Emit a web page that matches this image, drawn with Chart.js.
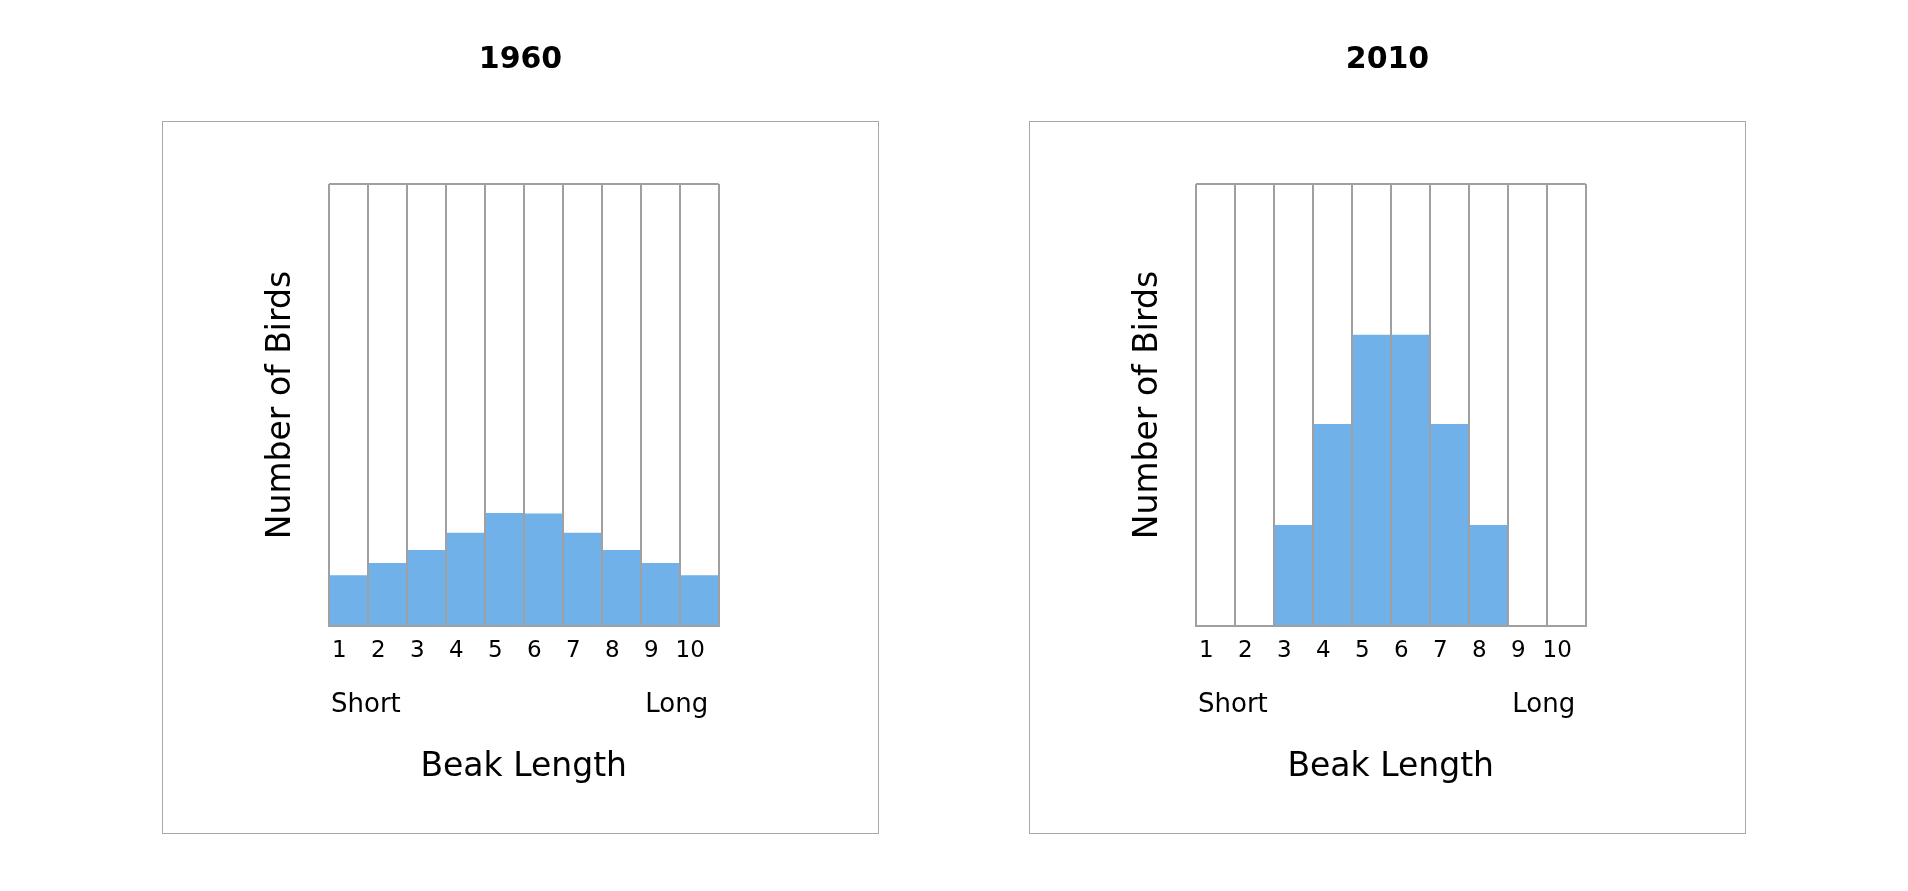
<!DOCTYPE html>
<html>
<head>
<meta charset="utf-8">
<script src="https://cdn.jsdelivr.net/npm/chart.js@4"></script>
<style>
  html, body { margin: 0; padding: 0; background: #ffffff; width: 1908px; height: 891px; overflow: hidden; }
  .frame { position: absolute; top: 121px; width: 717px; height: 713px; box-sizing: border-box; border: 1px solid #a8a8a8; }
  .holder { position: absolute; top: 0; width: 715px; height: 832px; z-index: 2; }
  .holder canvas { display: block; }
</style>
</head>
<body>
<div class="frame" style="left:162px"></div>
<div class="frame" style="left:1029px"></div>
<div class="holder" style="left:163px"><canvas id="c1" width="715" height="832"></canvas></div>
<div class="holder" style="left:1030px"><canvas id="c2" width="715" height="832"></canvas></div>
<script>
// ---- data ----
const CATEGORIES = ['1', '2', '3', '4', '5', '6', '7', '8', '9', '10'];
const BIRDS_1960 = [11.4, 14.2, 17.1, 21.0, 25.5, 25.4, 21.0, 17.1, 14.2, 11.4];
const BIRDS_2010 = [0, 0, 22.8, 45.6, 65.8, 65.8, 45.6, 22.8, 0, 0];
const CHART_TITLES = ['1960', '2010'];
const END_LABELS = ['Short', 'Long'];
const X_TITLE = 'Beak Length';
const Y_TITLE = 'Number of Birds';
const Y_MAX = 100;

// ---- style ----
const FONT = 'DejaVu Sans';
const TEXT = '#000000';
const GRID = '#a0a0a0';
const BAR = '#6fb1e8';
const END_POS = [0.06, 9.73];

function makeChart(canvasId, title, values) {
  return new Chart(document.getElementById(canvasId), {
    type: 'bar',
    data: {
      labels: CATEGORIES,
      datasets: [{
        data: values,
        backgroundColor: BAR,
        borderWidth: 0,
        barPercentage: 1,
        categoryPercentage: 1,
        xAxisID: 'x',
        yAxisID: 'y'
      }]
    },
    options: {
      responsive: false,
      animation: false,
      devicePixelRatio: 1,
      layout: { padding: { top: 0, left: 0, right: 0, bottom: 48.5 } },
      plugins: {
        legend: { display: false },
        tooltip: { enabled: false },
        title: {
          display: true,
          text: title,
          color: TEXT,
          font: { family: FONT, size: 30, weight: 'bold', lineHeight: 1 },
          padding: { top: 45.5, bottom: 108.5 }
        }
      },
      scales: {
        x: {
          type: 'category',
          position: 'bottom',
          weight: 0,
          offset: true,
          grid: { display: true, offset: true, color: GRID, lineWidth: 2, drawTicks: false, z: 1 },
          border: { display: true, color: GRID, width: 2, z: 1 },
          ticks: {
            color: TEXT,
            font: { family: FONT, size: 23, lineHeight: 1 },
            padding: 13.5,
            labelOffset: -9,
            maxRotation: 0,
            autoSkip: false
          }
        },
        x2: {
          type: 'linear',
          position: 'bottom',
          weight: 1,
          offset: false,
          min: 0,
          max: CATEGORIES.length,
          grid: { display: false, drawTicks: false, offset: false },
          border: { display: false },
          afterBuildTicks: (axis) => { axis.ticks = END_POS.map(v => ({ value: v })); },
          ticks: {
            color: TEXT,
            font: { family: FONT, size: 26, lineHeight: 1 },
            padding: 16.5,
            align: 'inner',
            maxRotation: 0,
            autoSkip: false,
            callback: (v, i) => END_LABELS[i]
          },
          title: {
            display: true,
            text: X_TITLE,
            color: TEXT,
            font: { family: FONT, size: 33, lineHeight: 1 },
            padding: { top: 15.5, bottom: 0 }
          }
        },
        y: {
          type: 'linear',
          position: 'left',
          min: 0,
          max: Y_MAX,
          ticks: { display: false, stepSize: Y_MAX },
          grid: {
            display: true,
            drawTicks: false,
            lineWidth: 2,
            z: 1,
            color: (ctx) => (ctx.tick && ctx.tick.value === Y_MAX) ? GRID : 'rgba(0,0,0,0)'
          },
          border: { display: false },
          title: {
            display: true,
            text: Y_TITLE,
            color: TEXT,
            font: { family: FONT, size: 33, lineHeight: 1 },
            padding: { top: 102.2, bottom: 31 }
          },
          afterFit: (s) => { s.width = 165.7; }
        },
        yR: {
          type: 'linear',
          position: 'right',
          display: true,
          ticks: { display: false },
          grid: { display: false, drawTicks: false },
          border: { display: false },
          afterFit: (s) => { s.width = 159.3; }
        }
      }
    }
  });
}

makeChart('c1', CHART_TITLES[0], BIRDS_1960);
makeChart('c2', CHART_TITLES[1], BIRDS_2010);
</script>
</body>
</html>
